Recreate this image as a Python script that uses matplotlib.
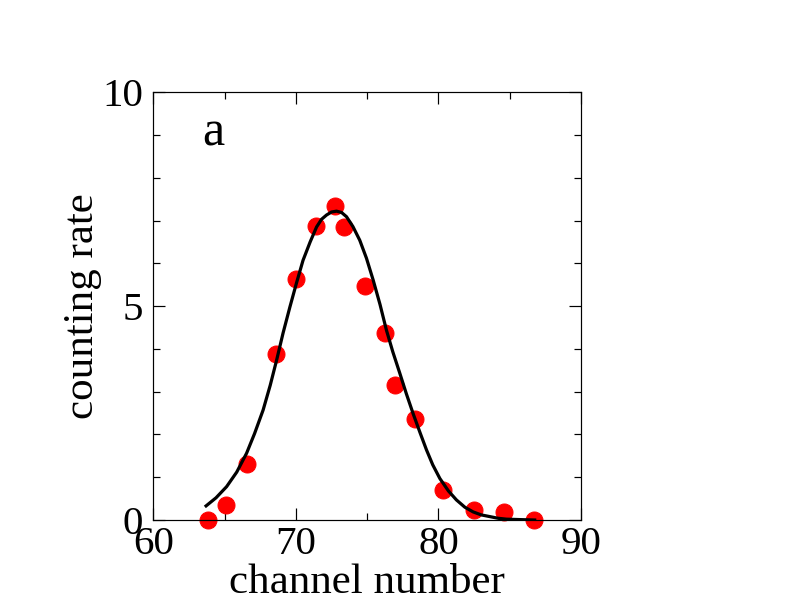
import matplotlib.pyplot as plt

# measured points (channel, counting rate)
channel = [63.8, 65.1, 66.55, 68.6, 69.98, 71.4, 72.76, 73.4, 74.84, 76.24,
           76.94, 78.36, 80.35, 82.5, 84.62, 86.68]
rate = [0.0, 0.35, 1.30, 3.89, 5.64, 6.88, 7.34, 6.84, 5.47, 4.38,
        3.15, 2.35, 0.70, 0.23, 0.18, 0.0]

# fitted curve
fit_x = [63.7, 64.4, 65.14, 65.85, 66.54, 67.1, 67.7, 68.2, 68.65, 69.1, 69.58, 70.05,
         70.5, 71.0, 71.45, 71.8, 72.15, 72.5, 72.85, 73.2, 73.55, 74.0, 74.48, 74.95,
         75.42, 75.9, 76.35, 76.8, 77.29, 77.75, 78.22, 78.7, 79.16, 79.6, 80.1,
         80.7, 81.26, 81.85, 82.43, 83.0, 83.6, 84.2, 84.77, 85.7, 86.75]
fit_y = [0.33, 0.52, 0.78, 1.12, 1.56, 2.02, 2.57, 3.15, 3.74, 4.37, 4.98, 5.55,
         6.07, 6.50, 6.85, 7.03, 7.13, 7.20, 7.22, 7.19, 7.09, 6.86, 6.54, 6.12,
         5.61, 5.04, 4.44, 3.93, 3.43, 2.95, 2.49, 2.05, 1.64, 1.29, 0.97,
         0.68, 0.47, 0.30, 0.19, 0.12, 0.08, 0.04, 0.02, 0.01, 0.0]

plt.rcParams['font.family'] = ['Liberation Serif', 'DejaVu Serif']

fig = plt.figure(figsize=(11, 8.5), dpi=72)
ax = fig.add_axes([0.1936, 0.1503, 0.540, 0.699])

ax.plot(fit_x, fit_y, color='black', linewidth=3.2, zorder=3)
ax.plot(channel, rate, linestyle='none', marker='o', markersize=17,
        color='red', markeredgecolor='red', zorder=2, clip_on=False)

ax.set_xlim(60, 90)
ax.set_ylim(0, 10)
ax.set_xticks([60, 70, 80, 90])
ax.set_xticks([65, 75, 85], minor=True)
ax.set_yticks([0, 5, 10])
ax.set_yticks([1, 2, 3, 4, 6, 7, 8, 9], minor=True)

ax.tick_params(which='both', direction='in', top=True, right=True, width=1.2)
ax.tick_params(which='major', length=12, labelsize=41, pad=6)
ax.tick_params(which='minor', length=7)
ax.tick_params(axis='y', which='major', pad=10)
for s in ax.spines.values():
    s.set_linewidth(1.2)

ax.set_xlabel('channel number', fontsize=43, labelpad=0)
ax.set_ylabel('counting rate', fontsize=43, labelpad=0)
ax.text(0.14, 0.905, 'a', transform=ax.transAxes, fontsize=50,
        ha='center', va='center')

plt.savefig('out.png', dpi=72)
